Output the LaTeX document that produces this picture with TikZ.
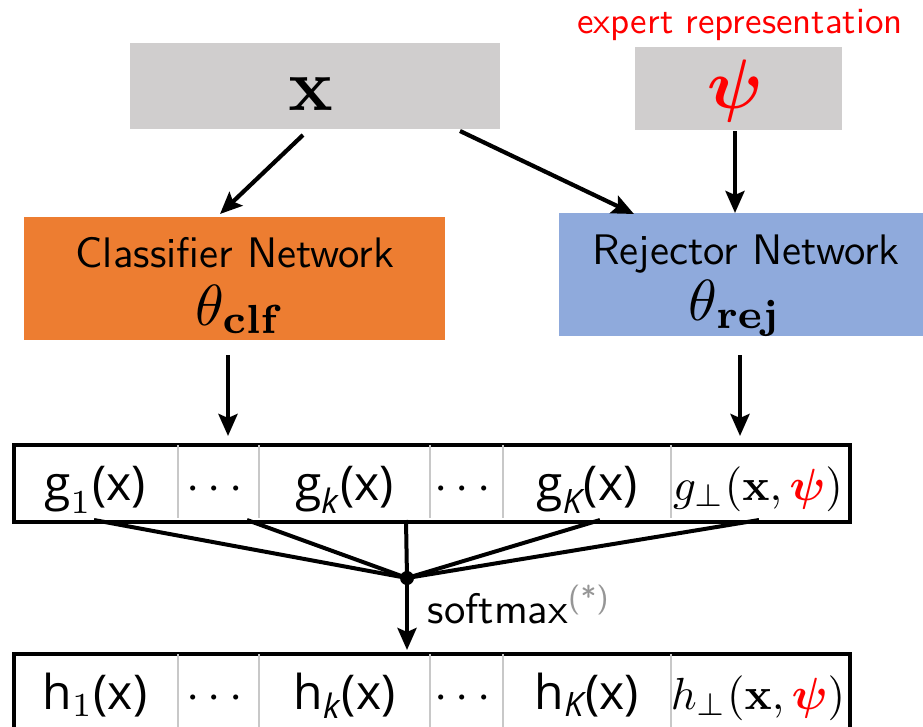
\RequirePackage{fix-cm}
\documentclass[tikz,border=0pt]{standalone}
\usepackage[no-math]{fontspec}
\usepackage{amsmath,bm}
\usetikzlibrary{arrows.meta}
\newfontfamily\osans{Open Sans}
\definecolor{boxgray}{RGB}{208,206,206}
\definecolor{clforange}{RGB}{237,125,49}
\definecolor{rejblue}{RGB}{143,170,220}
\definecolor{sepgray}{RGB}{200,200,200}
\definecolor{stargray}{RGB}{150,150,150}
\newcommand{\gsf}{\text{\osans g}}
\newcommand{\hsf}{\text{\osans h}}
\newcommand{\osx}{\text{\osans (x)}}
\newcommand{\osk}{\text{\osans\itshape k}}
\newcommand{\osK}{\text{\osans\itshape K}}
\begin{document}
\begin{tikzpicture}[x=1pt,y=-1pt,
  arr/.style={-{Stealth[length=22pt,width=19pt,inset=4pt]}, line width=4.2pt},
  conn/.style={line width=4pt},
  inbox/.style={fill=boxgray, draw=none, inner sep=0pt},
  netbox/.style={draw=none, inner sep=0pt},
  rowbox/.style={draw=black, line width=3.5pt, inner sep=0pt},
  sep/.style={draw=sepgray, line width=1.5pt},
  cell/.style={inner sep=0pt, anchor=base, scale=4.8},
  pcell/.style={inner sep=0pt, anchor=base, scale=4.5},
  sans/.style={inner sep=0pt, anchor=base, font=\sffamily, scale=4.27}]
\useasboundingbox (0,0) rectangle (923,726);

% inputs
\node[inbox, minimum width=370pt, minimum height=86pt, anchor=north west] (xbox) at (130,43) {};
\node[inner sep=0pt, anchor=base, scale=7.4] (xlab) at (311,110) {$\mathbf{x}$};
\node[inbox, minimum width=207pt, minimum height=83pt, anchor=north west] (psibox) at (635,47) {};
\node[inner sep=0pt, anchor=base, scale=7, text=red] (psilab) at (735,108) {$\bm{\psi}$};
\node[inner sep=0pt, anchor=base, font=\sffamily, scale=3.7, text=red] (exprep) at (740,33) {expert representation};

% networks
\node[netbox, fill=clforange, minimum width=421pt, minimum height=123pt, anchor=north west] (clf) at (24,217) {};
\node[sans] (clftxt) at (235,267) {Classifier Network};
\node[inner sep=0pt, anchor=base, scale=5.8] (clftheta) at (240,325) {$\theta_{\mathbf{clf}}$};
\node[netbox, fill=rejblue, minimum width=364pt, minimum height=123pt, anchor=north west] (rej) at (559,213) {};
\node[sans] (rejtxt) at (746,264) {Rejector Network};
\node[inner sep=0pt, anchor=base, scale=5.8] (rejtheta) at (735,320) {$\theta_{\mathbf{rej}}$};

% arrows into networks
\coordinate (xa1) at (303,135);
\coordinate (xa1e) at (220,214);
\coordinate (xa2) at (460,131);
\coordinate (xa2e) at (634,214);
\coordinate (pa) at (735,131);
\coordinate (pae) at (735,213);
\draw[arr] (xa1) -- (xa1e);
\draw[arr] (xa2) -- (xa2e);
\draw[arr] (pa) -- (pae);

% g row
\node[rowbox, minimum width=836pt, minimum height=77pt, anchor=north west] (grow) at (12,443) {};
\foreach \xx in {178,259,430,503,671} \draw[sep] (\xx,445) -- (\xx,518);
\node[cell] (g1) at (95,500) {$\gsf_1\osx$};
\node[cell] (gd1) at (218.5,500) {$\cdots$};
\node[cell] (gk) at (344.5,500) {$\gsf_{\osk}\osx$};
\node[cell] (gd2) at (466.5,500) {$\cdots$};
\node[cell] (gK) at (587,500) {$\gsf_{\osK}\osx$};
\node[pcell] (gp) at (758,500) {$g_\perp(\mathbf{x},\textcolor{red}{\bm{\psi}})$};

\coordinate (ca) at (228,355);
\coordinate (cae) at (228,436);
\coordinate (ra) at (740,355);
\coordinate (rae) at (740,436);
\draw[arr] (ca) -- (cae);
\draw[arr] (ra) -- (rae);

% softmax junction
\node[circle, fill=black, inner sep=0pt, minimum size=14pt] (dot) at (407,578) {};
\coordinate (b1) at (94,520);
\coordinate (b2) at (247,520);
\coordinate (b3) at (406,520);
\coordinate (b4) at (600,520);
\coordinate (b5) at (759,520);
\foreach \b in {b1,b2,b3,b4,b5} \draw[conn] (\b) -- (dot.center);

% h row
\node[rowbox, minimum width=836pt, minimum height=80pt, anchor=north west] (hrow) at (12,652) {};
\foreach \xx in {178,259,430,503,671} \draw[sep] (\xx,654) -- (\xx,728);
\coordinate (ht) at (407,650);
\draw[arr] (dot.center) -- (ht);
\node[inner sep=0pt, anchor=base west, font=\sffamily, scale=4.27] (smx) at (427,623) {softmax\textcolor{stargray}{\textsuperscript{(*)}}};

\node[cell] (h1) at (95,709) {$\hsf_1\osx$};
\node[cell] (hd1) at (218.5,709) {$\cdots$};
\node[cell] (hk) at (344.5,709) {$\hsf_{\osk}\osx$};
\node[cell] (hd2) at (466.5,709) {$\cdots$};
\node[cell] (hK) at (587,709) {$\hsf_{\osK}\osx$};
\node[pcell] (hp) at (758,709) {$h_\perp(\mathbf{x},\textcolor{red}{\bm{\psi}})$};
\end{tikzpicture}
\end{document}
